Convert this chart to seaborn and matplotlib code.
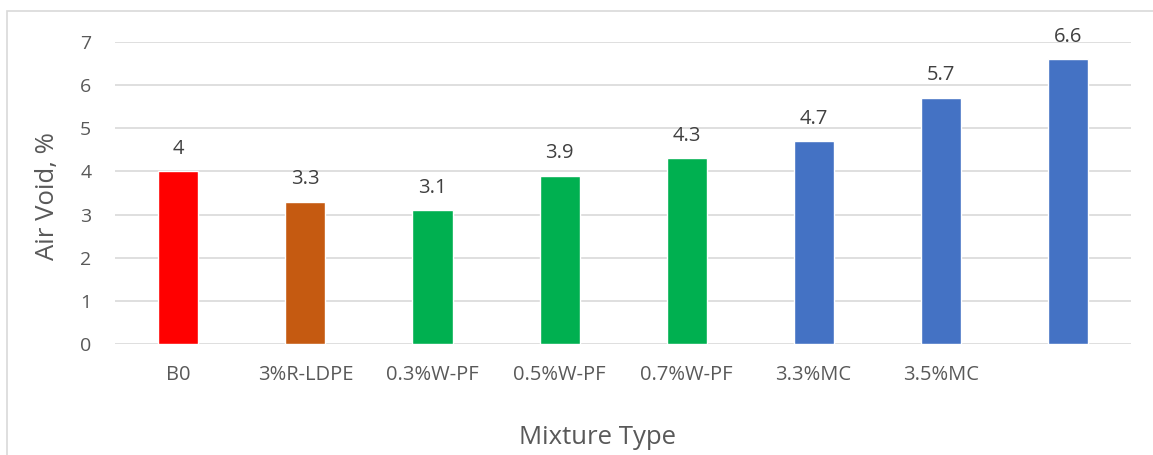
import numpy as np
import pandas as pd
import matplotlib
matplotlib.use("Agg")
import matplotlib.pyplot as plt
import seaborn as sns
from matplotlib.patches import Rectangle

# data
mixtures = ["B0", "3%R-LDPE", "0.3%W-PF", "0.5%W-PF", "0.7%W-PF", "3.3%MC", "3.5%MC", ""]
air_void = [4, 3.3, 3.1, 3.9, 4.3, 4.7, 5.7, 6.6]
bar_colors = ["#FF0000", "#C55A11", "#00B050", "#00B050", "#00B050", "#4472C4", "#4472C4", "#4472C4"]

sns.set_style("white")
plt.rcParams["font.family"] = ["Open Sans", "DejaVu Sans"]

df = pd.DataFrame({"mixture": [str(i) for i in range(len(mixtures))], "air_void": air_void})

fig = plt.figure(figsize=(11.53, 4.55), dpi=100)
ax = fig.add_axes([0.0997, 0.244, 0.8813, 0.664])

# light frame around the chart area, like the spreadsheet export
fig.patches.append(Rectangle((7 / 1153, -0.1), 1.2, 1 - 11 / 455 + 0.1, transform=fig.transFigure,
                             fill=False, edgecolor="#D9D9D9", linewidth=1.2))

sns.barplot(data=df, x="mixture", y="air_void", hue="mixture", palette=bar_colors,
            width=0.315, legend=False, ax=ax, saturation=1)

for c in ax.containers:
    ax.bar_label(c, labels=[f"{v:g}" for v in c.datavalues], padding=9,
                 fontsize=14.5, color="#404040", clip_on=False)

ax.set_ylim(0, 7)
ax.set_yticks(range(0, 8))
ax.set_xticks(range(len(mixtures)))
ax.set_xticklabels(mixtures)
ax.grid(axis="y", color="#D9D9D9", linewidth=1.2)
ax.set_axisbelow(True)
sns.despine(ax=ax, left=True, bottom=True, top=True, right=True)
ax.tick_params(axis="both", length=0, labelcolor="#595959")
ax.tick_params(axis="x", pad=15, labelsize=14.5)
ax.tick_params(axis="y", pad=17, labelsize=14)
ax.set_xlabel("Mixture Type", fontsize=18.5, color="#595959", va="center")
ax.xaxis.set_label_coords(0.475, -0.308)
ax.set_ylabel("Air Void, %", fontsize=18.5, color="#595959", va="center", ha="center")
ax.yaxis.set_label_coords(-0.066, 0.49)

fig.savefig("out.png", dpi=100)
